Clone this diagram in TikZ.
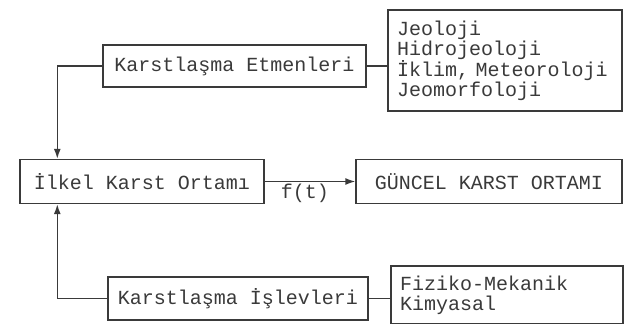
\documentclass[tikz,border=0pt]{standalone}
\usepackage{fontspec}
\setmonofont{Liberation Mono}
\usetikzlibrary{arrows.meta}

\definecolor{ink}{HTML}{3A3A3A}

\begin{document}
\begin{tikzpicture}[x=1pt, y=-1pt, line width=1.4pt, draw=ink,
    box/.style={draw=ink, rectangle, inner sep=0pt, text=ink,
      font=\ttfamily\fontsize{20}{20}\selectfont},
    listbox/.style={box, align=left, inner xsep=9pt},
    arrow/.style={-{Latex[length=10pt, width=7pt]}}]
  \useasboundingbox (0,0) rectangle (630,324);

  \node[box, minimum width=263, minimum height=42] (etmen) at (234.5, 66) {Karstlaşma Etmenleri};
  \node[listbox, text width=216, minimum height=101] (jeo) at (505, 60.5)
    {Jeoloji\\Hidrojeoloji\\İklim, Meteoroloji\\Jeomorfoloji};
  \node[box, minimum width=244, minimum height=44] (ilkel) at (142, 181.5) {İlkel Karst Ortamı};
  \node[box, minimum width=266, minimum height=44] (guncel) at (489, 181.5) {GÜNCEL KARST ORTAMI};
  \node[box, minimum width=260, minimum height=43] (islev) at (238, 298.5) {Karstlaşma İşlevleri};
  \node[listbox, text width=214, minimum height=58] (fizik) at (507, 295)
    {Fiziko-Mekanik\\Kimyasal};

  \node[text=ink, font=\ttfamily\fontsize{20}{20}\selectfont] (ft) at (305, 193) {f(t)};

  \draw (etmen.east) -- (etmen.east -| jeo.west);
  \draw (islev.east) -- (islev.east -| fizik.west);
  \draw[arrow] (etmen.west) -| ([xshift=38pt]ilkel.north west);
  \draw[arrow] (islev.west) -| ([xshift=38pt]ilkel.south west);
  \draw[arrow] (ilkel) -- (guncel);
\end{tikzpicture}
\end{document}
